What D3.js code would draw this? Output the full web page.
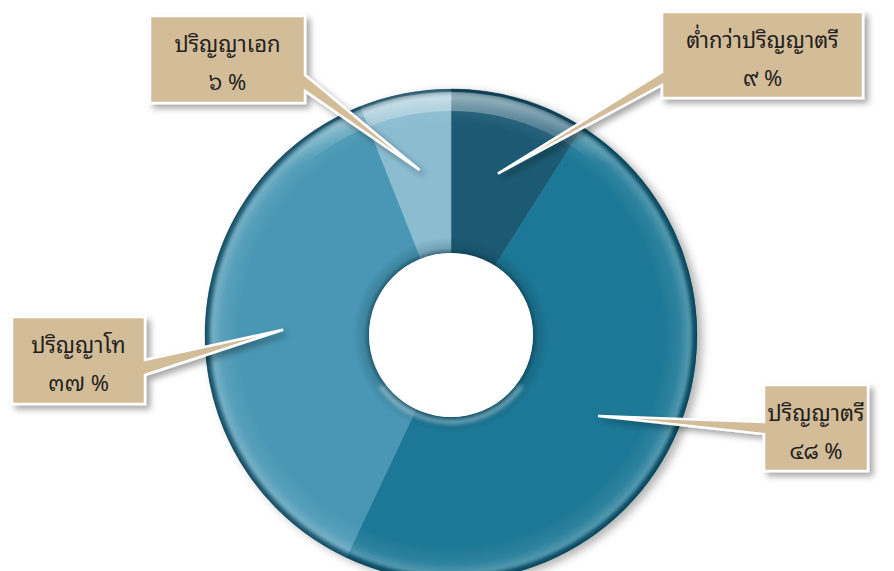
<!DOCTYPE html>
<html>
<head>
<meta charset="utf-8">
<script src="https://cdn.jsdelivr.net/npm/d3@7"></script>
<style>
  html, body { margin: 0; padding: 0; background: #fff; }
  svg { display: block; }
  text { font-family: 'Noto Sans Thai Looped', 'Loma', 'Garuda', 'Tlwg Typo', 'Norasi', Tahoma, 'Noto Sans Thai', 'DejaVu Sans', sans-serif; }
</style>
</head>
<body>
<div id="chart"></div>
<script>
const categories = ['ต่ำกว่าปริญญาตรี', 'ปริญญาตรี', 'ปริญญาโท', 'ปริญญาเอก']
const values = [9, 48, 37, 6]
const sliceColors = ['#1d5a73', '#1e7896', '#4a97b4', '#8bbcd0']

const width = 894
const height = 571
const cx = 451
const cy = 335
const outerR = 246
const innerR = 82

// callout boxes: box rect, side the pointer leaves from, pointer base on that side
const callouts = [
  { x: 662, y: 12, w: 201, h: 86, side: 'left', b0: 72, b1: 85 },
  { x: 764, y: 385, w: 104, h: 86, side: 'left', b0: 422, b1: 434 },
  { x: 12, y: 317, w: 133, h: 87, side: 'right', b0: 360, b1: 375 },
  { x: 150, y: 16, w: 155, h: 87, side: 'right', b0: 75, b1: 91 }
]

const thaiDigits = n => String(n).replace(/[0-9]/g, d => '๐๑๒๓๔๕๖๗๘๙'[d])

const svg = d3.select('#chart').append('svg')
  .attr('width', width)
  .attr('height', height)

const defs = svg.append('defs')

const shadow = defs.append('filter').attr('id', 'boxShadow')
  .attr('x', '-20%').attr('y', '-20%').attr('width', '150%').attr('height', '150%')
shadow.append('feDropShadow')
  .attr('dx', 4).attr('dy', 4).attr('stdDeviation', 3)
  .attr('flood-color', '#000').attr('flood-opacity', 0.35)

const donutShadow = defs.append('filter').attr('id', 'donutShadow')
  .attr('x', '-10%').attr('y', '-10%').attr('width', '125%').attr('height', '125%')
donutShadow.append('feDropShadow')
  .attr('dx', 5).attr('dy', 3).attr('stdDeviation', 4)
  .attr('flood-color', '#000').attr('flood-opacity', 0.3)

const soft = defs.append('filter').attr('id', 'soft')
  .attr('x', '-20%').attr('y', '-20%').attr('width', '140%').attr('height', '140%')
soft.append('feGaussianBlur').attr('stdDeviation', 2)

// rim: dark edge with a light band just inside
const rimGrad = defs.append('radialGradient').attr('id', 'rimGrad')
  .attr('gradientUnits', 'userSpaceOnUse')
  .attr('cx', 0).attr('cy', 0).attr('r', outerR)
rimGrad.append('stop').attr('offset', 0.86).attr('stop-color', '#fff').attr('stop-opacity', 0)
rimGrad.append('stop').attr('offset', 0.93).attr('stop-color', '#fff').attr('stop-opacity', 0.08)
rimGrad.append('stop').attr('offset', 0.965).attr('stop-color', '#fff').attr('stop-opacity', 0.22)
rimGrad.append('stop').attr('offset', 0.985).attr('stop-color', '#0e3a4c').attr('stop-opacity', 0.45)
rimGrad.append('stop').attr('offset', 1).attr('stop-color', '#0a2f3e').attr('stop-opacity', 0.8)

// stronger gloss near the top
const topGrad = defs.append('linearGradient').attr('id', 'topGrad')
  .attr('x1', 0).attr('y1', 0).attr('x2', 0).attr('y2', 1)
topGrad.append('stop').attr('offset', 0).attr('stop-color', '#fff').attr('stop-opacity', 0.4)
topGrad.append('stop').attr('offset', 0.3).attr('stop-color', '#fff').attr('stop-opacity', 0)
topGrad.append('stop').attr('offset', 1).attr('stop-color', '#fff').attr('stop-opacity', 0)

// shadow around the hole
const holeGrad = defs.append('radialGradient').attr('id', 'holeGrad')
  .attr('gradientUnits', 'userSpaceOnUse')
  .attr('cx', 0).attr('cy', 0).attr('r', innerR + 16)
holeGrad.append('stop').attr('offset', innerR / (innerR + 16)).attr('stop-color', '#0b3445').attr('stop-opacity', 0.6)
holeGrad.append('stop').attr('offset', (innerR + 5) / (innerR + 16)).attr('stop-color', '#0b3445').attr('stop-opacity', 0.2)
holeGrad.append('stop').attr('offset', 1).attr('stop-color', '#0b3445').attr('stop-opacity', 0)

const pie = d3.pie().sort(null).value(d => d)
const arcs = pie(values)

const arc = d3.arc().innerRadius(innerR).outerRadius(outerR)
const tipArc = d3.arc().innerRadius(168).outerRadius(168)

const g = svg.append('g').attr('transform', `translate(${cx},${cy})`)

g.append('g').attr('filter', 'url(#donutShadow)')
  .selectAll('path')
  .data(arcs)
  .join('path')
  .attr('d', arc)
  .attr('fill', (d, i) => sliceColors[i])
  .attr('stroke', (d, i) => sliceColors[i])
  .attr('stroke-width', 0.5)

const ring = d3.arc().innerRadius(innerR).outerRadius(outerR).startAngle(0).endAngle(2 * Math.PI)

g.append('path')
  .attr('d', ring())
  .attr('fill', 'url(#rimGrad)')

g.append('path')
  .attr('d', d3.arc().innerRadius(outerR - 22).outerRadius(outerR - 3).startAngle(-Math.PI / 2).endAngle(Math.PI / 2)())
  .attr('fill', 'url(#topGrad)')

g.append('path')
  .attr('d', d3.arc().innerRadius(innerR).outerRadius(innerR + 16).startAngle(0).endAngle(2 * Math.PI)())
  .attr('fill', 'url(#holeGrad)')

// soft light glint under the hole
g.append('path')
  .attr('d', d3.arc().innerRadius(innerR + 3).outerRadius(innerR + 7).startAngle(Math.PI * 0.7).endAngle(Math.PI * 1.3)())
  .attr('fill', '#fff')
  .attr('opacity', 0.45)
  .attr('filter', 'url(#soft)')

g.append('circle')
  .attr('r', innerR)
  .attr('fill', '#fff')

// callouts
const calloutPath = (c, tip) => {
  const r = c.x + c.w
  const b = c.y + c.h
  if (c.side === 'right') {
    return `M${c.x},${c.y}H${r}V${c.b0}L${tip[0]},${tip[1]}L${r},${c.b1}V${b}H${c.x}Z`
  }
  return `M${c.x},${c.y}H${r}V${b}H${c.x}V${c.b1}L${tip[0]},${tip[1]}L${c.x},${c.b0}Z`
}

const labels = svg.append('g').selectAll('g')
  .data(arcs)
  .join('g')

labels.append('path')
  .attr('d', (d, i) => {
    const t = tipArc.centroid(d)
    return calloutPath(callouts[i], [cx + t[0], cy + t[1]])
  })
  .attr('fill', '#d3bc98')
  .attr('stroke', '#fff')
  .attr('stroke-width', 2.5)
  .attr('stroke-linejoin', 'miter')
  .attr('filter', 'url(#boxShadow)')

labels.append('text')
  .attr('x', (d, i) => callouts[i].x + callouts[i].w / 2)
  .attr('y', (d, i) => callouts[i].y + 36)
  .attr('text-anchor', 'middle')
  .style('font-size', '22px')
  .style('fill', '#231f20')
  .text((d, i) => categories[i])

labels.append('text')
  .attr('x', (d, i) => callouts[i].x + callouts[i].w / 2)
  .attr('y', (d, i) => callouts[i].y + 74)
  .attr('text-anchor', 'middle')
  .style('font-size', '22px')
  .style('fill', '#231f20')
  .text(d => `${thaiDigits(d.data)} %`)
</script>
</body>
</html>
